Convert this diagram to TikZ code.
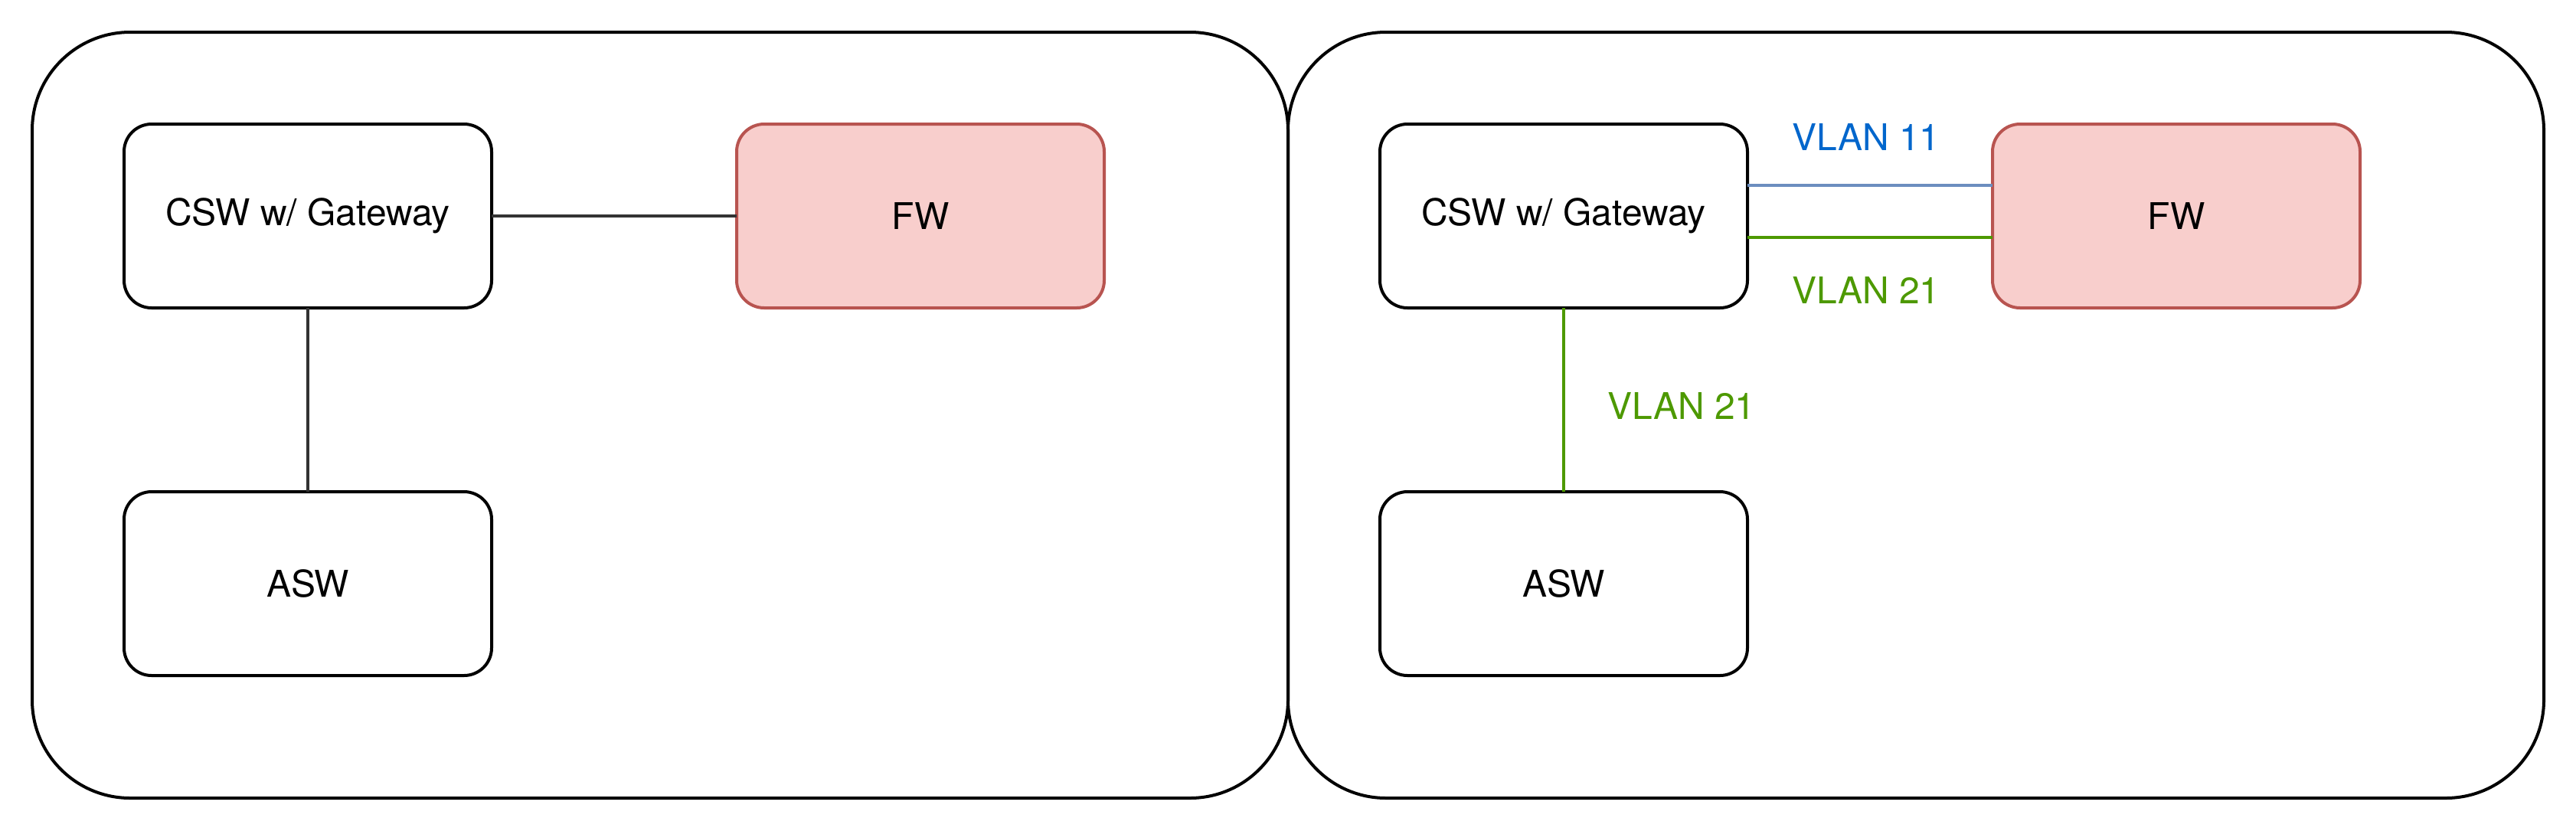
\documentclass[tikz,border=0pt]{standalone}
\usepackage{fontspec}
\setmainfont{TeX Gyre Heros}
\definecolor{fwfill}{HTML}{F8CECC}
\definecolor{fwdraw}{HTML}{B85450}
\definecolor{vblue}{HTML}{6C8EBF}
\definecolor{tblue}{HTML}{0066CC}
\definecolor{vgreen}{HTML}{4D9900}
\definecolor{edgegray}{HTML}{333333}
\begin{document}
\begin{tikzpicture}[x=1pt,y=-1pt,
  every node/.style={font=\fontsize{12}{14}\selectfont, inner sep=0pt, outer sep=0pt},
  container/.style={draw=black, line width=1pt, rounded corners=32pt, minimum width=410pt, minimum height=250pt, anchor=north west},
  devbox/.style={draw=black, fill=white, line width=1pt, rounded corners=9pt, minimum width=120pt, minimum height=60pt, anchor=north west},
  fwbox/.style={devbox, draw=fwdraw, fill=fwfill},
  link/.style={line width=1pt, draw=edgegray},
  vlanlabel/.style={font=\fontsize{12}{14}\selectfont}
]
\useasboundingbox (0,0) rectangle (841,271);
\fill[white] (0,0) rectangle (841,271);

% containers
\node[container] (boxL) at (10.5,10.5) {};
\node[container] (boxR) at (420.5,10.5) {};

% left side
\node[devbox] (cswL) at (40.5,40.5) {CSW w/ Gateway};
\node[devbox] (aswL) at (40.5,160.5) {ASW};
\node[fwbox]  (fwL)  at (240.5,40.5) {FW};
\draw[link] (cswL.south) -- (aswL.north);
\draw[link] (cswL.east) -- (fwL.west);

% right side
\node[devbox] (cswR) at (450.5,40.5) {CSW w/ Gateway};
\node[devbox] (aswR) at (450.5,160.5) {ASW};
\node[fwbox]  (fwR)  at (650.5,40.5) {FW};
\draw[line width=1pt, draw=vgreen] (cswR.south) -- (aswR.north);
\draw[line width=1pt, draw=vblue] ([yshift=10pt]cswR.east) -- ([yshift=10pt]fwR.west);
\draw[line width=1pt, draw=vgreen] ([yshift=-7pt]cswR.east) -- ([yshift=-7pt]fwR.west);

\node[vlanlabel, text=tblue]  (l11) at (609.25,44.75) {VLAN 11};
\node[vlanlabel, text=vgreen] (l21a) at (609.25,94.75) {VLAN 21};
\node[vlanlabel, text=vgreen] (l21b) at (549,132.5) {VLAN 21};
\end{tikzpicture}
\end{document}
